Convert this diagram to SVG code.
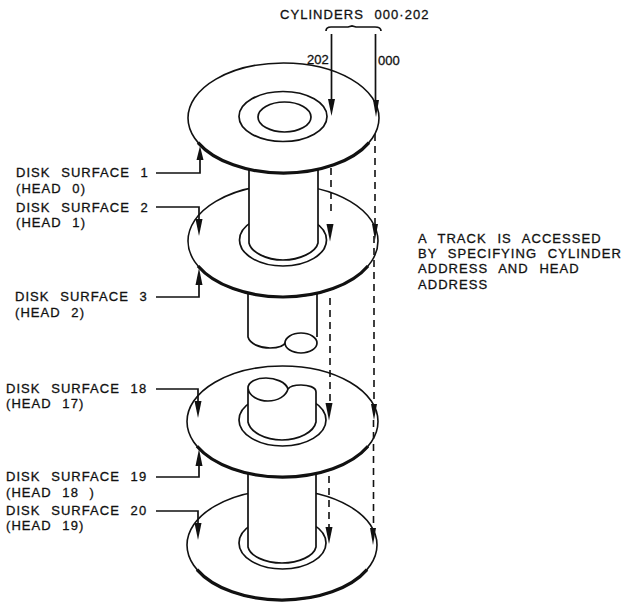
<svg xmlns="http://www.w3.org/2000/svg" width="624" height="602" viewBox="0 0 624 602">
<style>
text{font-family:"Liberation Sans",Arial,sans-serif;font-size:13px;fill:#111;stroke:#111;stroke-width:.3px;letter-spacing:1.05px;word-spacing:6px}
text.n{letter-spacing:0}
.d{fill:#fff;stroke:#111;stroke-width:1.6}
.t{fill:none;stroke:#111;stroke-width:3.2}
.l{fill:none;stroke:#111;stroke-width:1.7}
.w{fill:#fff;stroke:none}
.s{fill:#fff;stroke:#111;stroke-width:1.7}
.da{fill:none;stroke:#111;stroke-width:1.6;stroke-dasharray:7 5}
.a{fill:none;stroke:#111;stroke-width:1.7}
.h{fill:#111}
</style>
<rect width="624" height="602" fill="#fff"/>
<g id="disk-4">
<ellipse class="d" cx="282" cy="545" rx="95" ry="55"/>
<path class="t" d="M197 569.600A95 55 0 0 0 367 569.600"/>
<ellipse class="l" cx="282.500" cy="543" rx="43.500" ry="26"/>
<path class="w" d="M248 474V547C250 556 265 563 282 563C299 563 314 556 316 547V474Z"/>
<path class="l" d="M248 474V547C250 556 265 563 282 563C299 563 314 556 316 547V474"/>
</g>
<g id="disk-3">
<ellipse class="d" cx="282.500" cy="421.500" rx="95.500" ry="55.500"/>
<path class="t" d="M197 446.300A95.500 55.500 0 0 0 368 446.300"/>
<ellipse class="l" cx="282.500" cy="420" rx="43.500" ry="26"/>
<path class="s" d="M248 388V422C250 432 265 440 282 440C299 440 314 432 316 422V392C316 387 308 385 301 385C294 385 290 386 288 389C286 382 275 378 266 378C256 378 248 382 248 388C249 396 258 401 268 401C278 401 286 396 288 389"/>
</g>
<g id="spindle-2">
<path class="l" d="M248 290V337C250 344 260 348 270 348C278 348 284 346 286 342"/>
<path class="l" d="M317 290V337"/>
<ellipse class="s" cx="301" cy="343" rx="16" ry="10"/>
</g>
<g id="disk-2">
<ellipse class="d" cx="283" cy="241" rx="95" ry="56"/>
<path class="t" d="M198 266A95 56 0 0 0 368 266"/>
<ellipse class="l" cx="283" cy="240" rx="43.500" ry="26"/>
<path class="w" d="M249 165V243C251 252 266 260 283 260C300 260 316 252 318 243V165Z"/>
<path class="l" d="M249 165V243C251 252 266 260 283 260C300 260 316 252 318 243V165"/>
</g>
<g id="disk-1">
<ellipse class="d" cx="283.500" cy="118" rx="95.500" ry="55"/>
<path class="t" d="M198 142.600A95.500 55 0 0 0 369 142.600"/>
<ellipse class="l" cx="283" cy="116.500" rx="44" ry="25"/>
<ellipse class="l" cx="284.500" cy="117" rx="26.500" ry="15"/>
</g>
<g id="connectors">
<path class="a" d="M331.500 34V100M375.500 34V100"/>
<path class="l" d="M326 31C326 28 328 27 331 27H348L352 26L356 27H375C379 27 381 28 381 31"/>
<path class="da" d="M331 168V214M375 134V226M330 298V405M374 236V405M329 476V530M373.500 420V530"/>
<path class="a" d="M156 173H200V158M156 207H199V222M156 297H199V283M156 389H198V404M156 477H199V462M156 511H198V526"/>
<g class="h">
<path d="M331.500 116L328 99H335Z"/>
<path d="M376 117L373 100H379Z"/>
<path d="M330 241.500L326.500 224H333.500Z"/>
<path d="M375 240L372 224H378Z"/>
<path d="M329 420.500L325.500 403H332.500Z"/>
<path d="M374 420L371 404H377Z"/>
<path d="M329 544L325.500 527H332.500Z"/>
<path d="M373 545L370 528H376Z"/>
<path d="M200 146L196.500 160H203.500Z"/>
<path d="M199 236L195.500 219H202.500Z"/>
<path d="M199 268L195.500 285H202.500Z"/>
<path d="M198 418L194.500 401H201.500Z"/>
<path d="M199 449L195.500 466H202.500Z"/>
<path d="M198 540L194.500 523H201.500Z"/>
</g>
</g>
<g id="labels">
<text x="280" y="19">CYLINDERS 000·202</text>
<text class="n" x="307" y="64">202</text>
<text class="n" x="378" y="65">000</text>
<text x="16" y="177">DISK SURFACE 1</text>
<text x="16" y="193">(HEAD 0)</text>
<text x="16" y="212">DISK SURFACE 2</text>
<text x="16" y="227">(HEAD 1)</text>
<text x="15" y="301">DISK SURFACE 3</text>
<text x="15" y="317">(HEAD 2)</text>
<text x="6" y="393">DISK SURFACE 18</text>
<text x="6" y="408">(HEAD 17)</text>
<text x="6" y="481">DISK SURFACE 19</text>
<text x="6" y="497">(HEAD 18 )</text>
<text x="6" y="515">DISK SURFACE 20</text>
<text x="6" y="530">(HEAD 19)</text>
<text x="418" y="243">A TRACK IS ACCESSED</text>
<text x="418" y="258">BY SPECIFYING CYLINDER</text>
<text x="418" y="273">ADDRESS AND HEAD</text>
<text x="418" y="289">ADDRESS</text>
</g>
</svg>
